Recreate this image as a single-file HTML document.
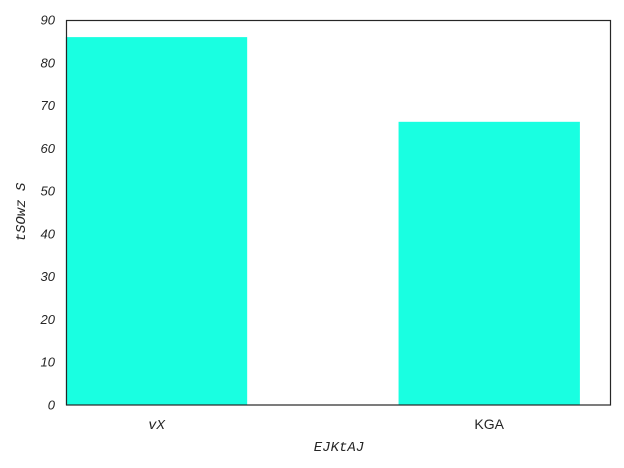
<!DOCTYPE html>
<html><head><meta charset="utf-8"><style>
body{margin:0;background:#fff;}
svg{display:block;}
</style></head><body>
<svg id="chart" width="624" height="468" xmlns="http://www.w3.org/2000/svg">
<g id="bars"></g>
<g id="yticks"></g>
<g id="xticks"></g>
<rect x="66.5" y="20.5" width="544" height="384.5" fill="none" stroke="#262626" stroke-width="1.2"/>
<text x="339" y="451" text-anchor="middle" font-family="Liberation Mono, monospace" font-style="italic" font-size="14" fill="#262626">EJKtAJ</text>
<text transform="translate(25,212) rotate(-90)" text-anchor="middle" font-family="Liberation Mono, monospace" font-style="italic" font-size="14" fill="#262626">tSOwz S</text>
</svg>
<script>
const categories = ["vX", "KGA"];
const values = [86, 66.2];
const yTicks = [0,10,20,30,40,50,60,70,80,90];
const catStyles = ["italic", "normal"];
const NS = "http://www.w3.org/2000/svg";
const x0 = 66, x1 = 611, y0 = 405, y1 = 20;
const xMin = -0.272, xMax = 1.366, yMin = 0, yMax = 90, barW = 0.545;
function xs(v){return x0 + (v - xMin) / (xMax - xMin) * (x1 - x0);}
function ys(v){return y0 - (v - yMin) / (yMax - yMin) * (y0 - y1);}
const bars = document.getElementById('bars');
values.forEach((v,i)=>{
  const r = document.createElementNS(NS,'rect');
  
  
  r.setAttribute('x', xs(i - barW/2));
  r.setAttribute('width', xs(i + barW/2) - xs(i - barW/2));
  r.setAttribute('y', ys(v));
  r.setAttribute('height', ys(0) - ys(v));
  r.setAttribute('fill', '#19ffe1');
  bars.appendChild(r);
});
const yt = document.getElementById('yticks');
yTicks.forEach(t=>{
  const tx = document.createElementNS(NS,'text');
  
  
  tx.setAttribute('x', 55); tx.setAttribute('y', ys(t) + 4.5);
  tx.setAttribute('text-anchor', 'end');
  tx.setAttribute('font-family', 'Liberation Sans, sans-serif');
  tx.setAttribute('font-style', 'italic');
  tx.setAttribute('font-size', '13'); tx.setAttribute('fill', '#262626');
  tx.textContent = t;
  yt.appendChild(tx);
});
const xt = document.getElementById('xticks');
categories.forEach((c,i)=>{
  const tx = document.createElementNS(NS,'text');
  
  
  tx.setAttribute('x', xs(i)); tx.setAttribute('y', 429);
  tx.setAttribute('text-anchor', 'middle');
  tx.setAttribute('font-family', i===0 ? 'Liberation Mono, monospace' : 'Liberation Sans, sans-serif');
  tx.setAttribute('font-style', catStyles[i]);
  tx.setAttribute('font-size', '14'); tx.setAttribute('fill', '#262626');
  tx.textContent = c;
  xt.appendChild(tx);
});
</script>
</body></html>
